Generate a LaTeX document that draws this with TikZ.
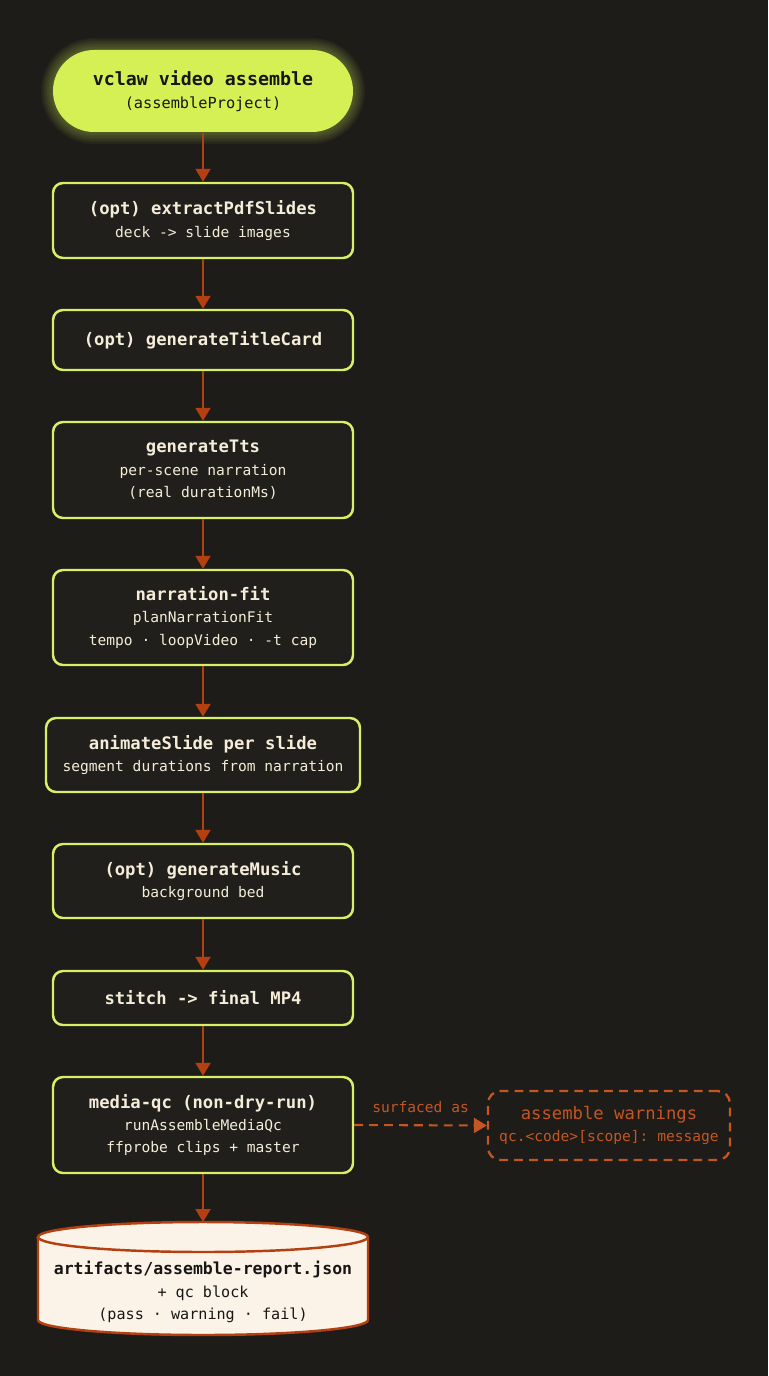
\documentclass[tikz,border=0pt]{standalone}
\usepackage{fontspec}
\setmonofont{DejaVu Sans Mono}
\usetikzlibrary{arrows.meta}
\definecolor{bg}{RGB}{30,28,25}
\definecolor{lime}{RGB}{214,240,104}
\definecolor{limefill}{RGB}{212,240,84}
\definecolor{boxfill}{RGB}{33,31,27}
\definecolor{cream}{RGB}{245,237,218}
\definecolor{rust}{RGB}{180,64,18}
\definecolor{warnc}{RGB}{196,86,36}
\definecolor{cylfill}{RGB}{251,242,232}
\definecolor{ink}{RGB}{24,22,20}
\tikzset{
  stepbox/.style={draw=lime, line width=1.4pt, fill=boxfill, rounded corners=0.2cm,
    minimum width=6cm, text=cream, align=center,
    font=\ttfamily\fontsize{8.3}{12.8}\selectfont, inner sep=0pt},
  flow/.style={draw=rust, line width=1.2pt, -{Triangle[width=0.3cm,length=0.26cm]}},
  warnbox/.style={draw=warnc, line width=1.3pt, dash pattern=on 5pt off 3.5pt,
    rounded corners=0.25cm, minimum width=4.84cm, minimum height=1.38cm,
    text=warnc, align=center, font=\ttfamily\fontsize{8.3}{12.8}\selectfont, inner sep=0pt},
  glowlayer/.style={fill=limefill, opacity=0.045},
}
\newcommand{\boxhead}[1]{{\bfseries\fontsize{9.8}{12.8}\selectfont #1}}
\begin{document}
\begin{tikzpicture}
\useasboundingbox[fill=bg] (0,0) rectangle (15.36,-27.52);
% glow of the top pill
\foreach \d in {0.03,0.06,0.09,0.12,0.15,0.18,0.21,0.24}{
  \fill[glowlayer, rounded corners=0.82cm+\d cm] (1.06-\d,-1.0+\d) rectangle (7.06+\d,-2.64-\d);
}
\node[stepbox, draw=none, fill=limefill, text=ink, minimum height=1.64cm,
  rounded corners=0.82cm] (top) at (4.06,-1.82)
  {{\bfseries\fontsize{10.4}{12.8}\selectfont vclaw video assemble}\\{\fontsize{8.7}{12.8}\selectfont (assembleProject)}};

\node[stepbox, minimum height=1.5cm] (b1) at (4.06,-4.41)
  {\boxhead{(opt) extractPdfSlides}\\deck -> slide images};
\node[stepbox, minimum height=1.2cm] (b2) at (4.06,-6.8)
  {\boxhead{(opt) generateTitleCard}};
\node[stepbox, minimum height=1.92cm] (b3) at (4.06,-9.4)
  {\boxhead{generateTts}\\per-scene narration\\(real durationMs)};
\node[stepbox, minimum height=1.9cm] (b4) at (4.06,-12.35)
  {\boxhead{narration-fit}\\planNarrationFit\\tempo · loopVideo · -t cap};
\node[stepbox, minimum width=6.28cm, minimum height=1.48cm] (b5) at (4.06,-15.1)
  {\boxhead{animateSlide per slide}\\segment durations from narration};
\node[stepbox, minimum height=1.48cm] (b6) at (4.06,-17.62)
  {\boxhead{(opt) generateMusic}\\background bed};
\node[stepbox, minimum height=1.08cm] (b7) at (4.06,-19.96)
  {\boxhead{stitch -> final MP4}};
\node[stepbox, minimum height=1.92cm] (b8) at (4.06,-22.5)
  {\boxhead{media-qc (non-dry-run)}\\runAssembleMediaQc\\ffprobe clips + master};

\node[warnbox] (warn) at (12.18,-22.51)
  {{\fontsize{9.8}{12.8}\selectfont assemble warnings}\\qc.<code>[scope]: message};

% cylinder
\fill[cylfill] (0.76,-24.74) -- (0.76,-26.4)
  arc[start angle=180,end angle=360,x radius=3.3cm,y radius=0.3cm]
  -- (7.36,-24.74) arc[start angle=0,end angle=180,x radius=3.3cm,y radius=0.3cm] -- cycle;
\draw[rust, line width=1.4pt] (0.76,-24.74) -- (0.76,-26.4)
  arc[start angle=180,end angle=360,x radius=3.3cm,y radius=0.3cm]
  -- (7.36,-24.74) arc[start angle=0,end angle=180,x radius=3.3cm,y radius=0.3cm] -- cycle;
\draw[rust, line width=1.4pt] (0.76,-24.74)
  arc[start angle=180,end angle=360,x radius=3.3cm,y radius=0.3cm];
\node[text=ink, align=center, font=\ttfamily\fontsize{8.6}{12.8}\selectfont] (rep) at (4.06,-25.84)
  {{\bfseries\fontsize{9.4}{12.8}\selectfont artifacts/assemble-report.json}\\+ qc block\\(pass · warning · fail)};
\coordinate (reptop) at (4.06,-24.44);

% connectors
\draw[flow] (top) -- (b1);
\draw[flow] (b1) -- (b2);
\draw[flow] (b2) -- (b3);
\draw[flow] (b3) -- (b4);
\draw[flow] (b4) -- (b5);
\draw[flow] (b5) -- (b6);
\draw[flow] (b6) -- (b7);
\draw[flow] (b7) -- (b8);
\draw[flow] (b8.south) -- (reptop);
\draw[flow, draw=warnc, dash pattern=on 5pt off 3.5pt] (b8.east) -- (warn.west)
  node[midway, above=3pt, text=warnc, font=\ttfamily\fontsize{8.3}{10}\selectfont] {surfaced as};
\end{tikzpicture}
\end{document}
